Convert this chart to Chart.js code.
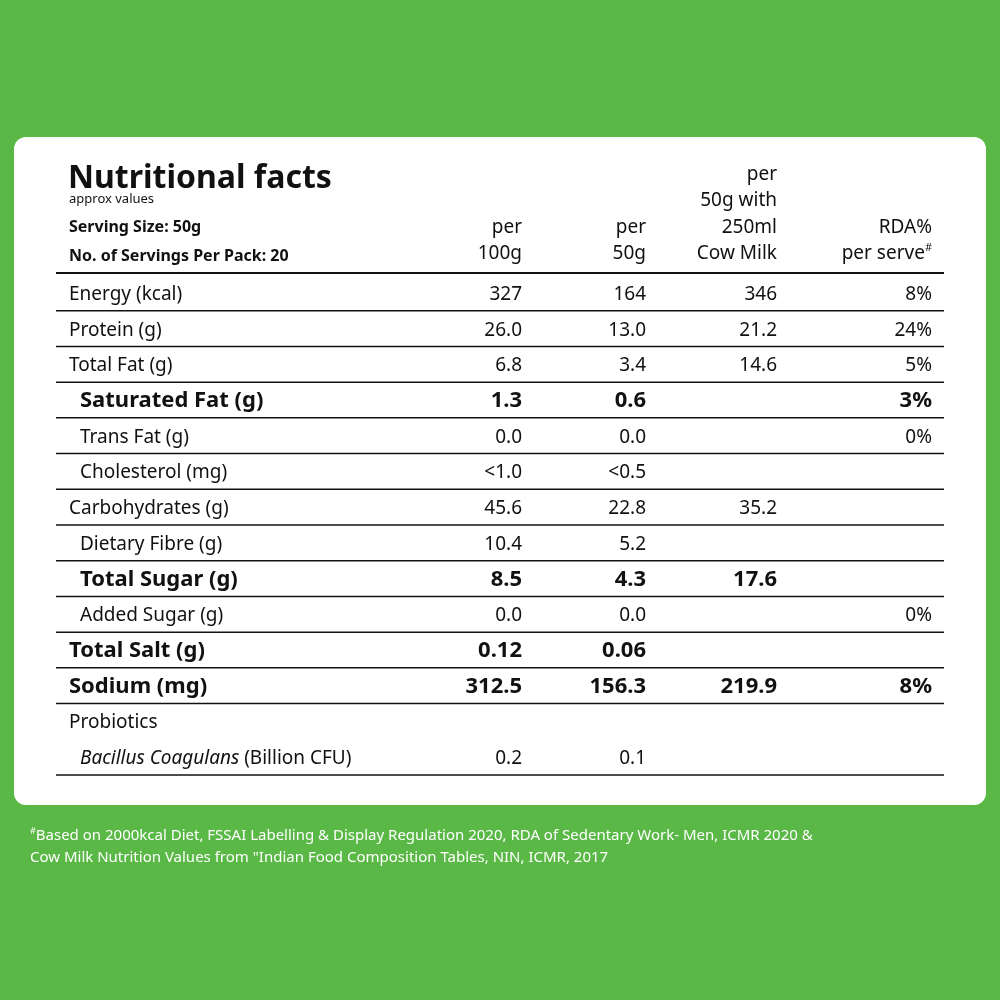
<!DOCTYPE html>
<html>
<head>
<meta charset="utf-8">
<script src="https://cdn.jsdelivr.net/npm/chart.js@4"></script>
<style>
  body { margin: 0; background: #5ab946; }
  canvas { display: block; }
</style>
</head>
<body>
<canvas id="myChart" width="1000" height="1000"></canvas>
<script>
// ************ table data ************
var rowNames = ["Energy (kcal)", "Protein (g)", "Total Fat (g)", "Saturated Fat (g)", "Trans Fat (g)",
  "Cholesterol (mg)", "Carbohydrates (g)", "Dietary Fibre (g)", "Total Sugar (g)", "Added Sugar (g)",
  "Total Salt (g)", "Sodium (mg)", "Probiotics", "Bacillus Coagulans"];
var per100g = ["327", "26.0", "6.8", "1.3", "0.0", "<1.0", "45.6", "10.4", "8.5", "0.0", "0.12", "312.5", "", "0.2"];
var per50g = ["164", "13.0", "3.4", "0.6", "0.0", "<0.5", "22.8", "5.2", "4.3", "0.0", "0.06", "156.3", "", "0.1"];
var withMilk = ["346", "21.2", "14.6", "", "", "", "35.2", "", "17.6", "", "", "219.9", "", ""];
var rdaPct = ["8%", "24%", "5%", "3%", "0%", "", "", "", "", "0%", "", "8%", "", ""];
var colHeaders = [["per", "100g"], ["per", "50g"], ["per", "50g with", "250ml", "Cow Milk"], ["RDA%", "per serve#"]];

// styling per row (not data)
var boldRows = [3, 8, 10, 11];
var indentRows = [3, 4, 5, 7, 8, 9, 13];
var colRight = [522, 646, 777, 932];
var FONT = "'Noto Sans', sans-serif";

function drawSup(ctx, text, x, y, size, align) {
  // draws text where '#' is superscript
  var parts = text.split("#");
  ctx.textAlign = "left";
  var w0 = ctx.measureText(parts[0]).width;
  var small = "normal " + Math.round(size * 0.6) + "px " + FONT;
  var base = ctx.font;
  ctx.font = small;
  var ws = ctx.measureText("#").width;
  ctx.font = base;
  var w1 = parts.length > 1 ? ctx.measureText(parts[1]).width : 0;
  var total = w0 + (parts.length > 1 ? ws + w1 : 0);
  var sx = align === "right" ? x - total : x;
  ctx.fillText(parts[0], sx, y);
  if (parts.length > 1) {
    ctx.font = small;
    ctx.fillText("#", sx + w0, y - size * 0.4);
    ctx.font = base;
    ctx.fillText(parts[1], sx + w0 + ws, y);
  }
}

var tablePlugin = {
  id: "tablePlugin",
  beforeDraw: function(chart) {
    var ctx = chart.ctx;
    ctx.save();
    ctx.fillStyle = "#5ab946";
    ctx.fillRect(0, 0, 1000, 1000);
    ctx.fillStyle = "#ffffff";
    ctx.beginPath();
    ctx.roundRect(14, 137, 972, 668, 12);
    ctx.fill();
    ctx.restore();
  },
  afterDraw: function(chart) {
    var ctx = chart.ctx;
    var y = chart.scales.y;
    var area = chart.chartArea;
    ctx.save();
    ctx.fillStyle = "#111";
    ctx.textBaseline = "alphabetic";

    // header block
    ctx.textAlign = "left";
    ctx.font = "bold 32px " + FONT;
    ctx.fillText("Nutritional facts", 68, 188);
    ctx.font = "normal 13px " + FONT;
    ctx.fillText("approx values", 69, 203);
    ctx.font = "bold 16px " + FONT;
    ctx.fillText("Serving Size: 50g", 69, 232);
    ctx.fillText("No. of Servings Per Pack: 20", 69, 261);

    ctx.font = "normal 19px " + FONT;
    for (var c = 0; c < colHeaders.length; c++) {
      var lines = colHeaders[c];
      for (var l = 0; l < lines.length; l++) {
        var ly = 259 - (lines.length - 1 - l) * 26.5;
        drawSup(ctx, lines[l], colRight[c], ly, 19, "right");
      }
    }

    // grid lines
    ctx.strokeStyle = "#111";
    ctx.lineWidth = 2;
    ctx.beginPath();
    ctx.moveTo(area.left, area.top - 2);
    ctx.lineTo(area.right, area.top - 2);
    ctx.stroke();
    ctx.lineWidth = 1.5;
    for (var i = 0; i < rowNames.length; i++) {
      if (i === 12) continue; // no line between Probiotics and its item
      var by = (y.getPixelForValue(i) + (i + 1 < rowNames.length ? y.getPixelForValue(i + 1) : 2 * y.getPixelForValue(i) - y.getPixelForValue(i - 1))) / 2;
      ctx.beginPath();
      ctx.moveTo(area.left, by);
      ctx.lineTo(area.right, by);
      ctx.stroke();
    }

    // rows
    for (var r = 0; r < rowNames.length; r++) {
      var cy = y.getPixelForValue(r) + 7;
      var bold = boldRows.indexOf(r) >= 0;
      var size = bold ? 22 : 19;
      var x0 = indentRows.indexOf(r) >= 0 ? 80 : 69;
      ctx.textAlign = "left";
      if (r === 13) {
        ctx.font = "italic 19px " + FONT;
        ctx.fillText(rowNames[r], x0, cy);
        var w = ctx.measureText(rowNames[r] + " ").width;
        ctx.font = "normal 19px " + FONT;
        ctx.fillText("(Billion CFU)", x0 + w, cy);
      } else {
        ctx.font = (bold ? "bold " : "normal ") + size + "px " + FONT;
        ctx.fillText(rowNames[r], x0, cy);
      }
      ctx.font = (bold ? "bold " : "normal ") + size + "px " + FONT;
      ctx.textAlign = "right";
      var vals = [per100g[r], per50g[r], withMilk[r], rdaPct[r]];
      for (var k = 0; k < vals.length; k++) {
        ctx.fillText(vals[k], colRight[k], cy);
      }
    }

    // footnote
    ctx.fillStyle = "#ffffff";
    ctx.font = "normal 15px " + FONT;
    drawSup(ctx, "#Based on 2000kcal Diet, FSSAI Labelling & Display Regulation 2020, RDA of Sedentary Work- Men, ICMR 2020 &", 30, 840, 15, "left");
    ctx.textAlign = "left";
    ctx.fillText("Cow Milk Nutrition Values from \"Indian Food Composition Tables, NIN, ICMR, 2017", 30, 862);
    ctx.restore();
  }
};

var myChart = new Chart(document.getElementById("myChart").getContext("2d"), {
  type: "bar",
  data: {
    labels: rowNames,
    datasets: [{ label: "rows", data: rowNames.map(function() { return null; }) }]
  },
  options: {
    responsive: false,
    animation: false,
    devicePixelRatio: 1,
    indexAxis: "y",
    layout: { padding: { top: 275, bottom: 225, left: 56, right: 56 } },
    plugins: { legend: { display: false }, tooltip: { enabled: false } },
    scales: {
      y: { type: "category", offset: true, display: false },
      x: { type: "linear", display: false, min: 0, max: 1 }
    }
  },
  plugins: [tablePlugin]
});
</script>
</body>
</html>
